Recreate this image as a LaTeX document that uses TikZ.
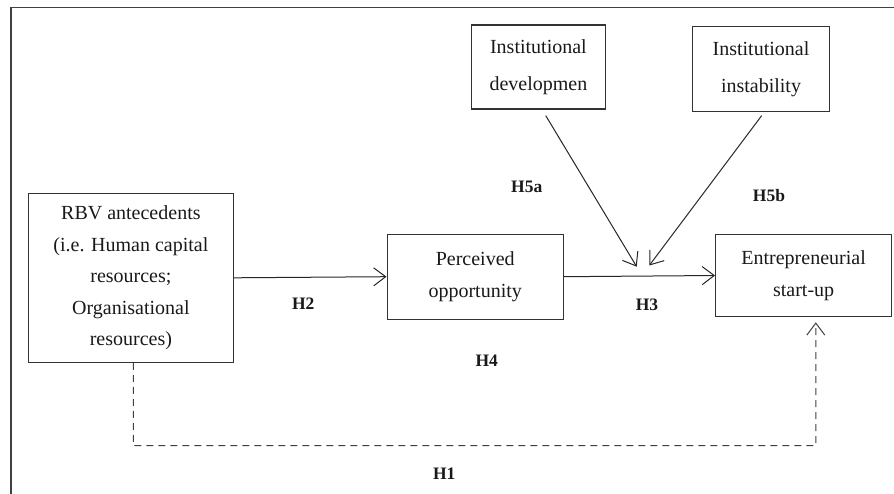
\documentclass[tikz,border=0pt]{standalone}
\usepackage{fontspec}
\setmainfont{Liberation Serif}
\usetikzlibrary{arrows.meta}
\begin{document}
\begin{tikzpicture}[x=1pt,y=-1pt,
  box/.style={draw=black!80, line width=1.1pt, align=center, inner sep=0pt, text=black!90, font=\fontsize{20}{31.5}\selectfont},
  tallbox/.style={box, font=\fontsize{20}{36.6}\selectfont},
  hlab/.style={font=\fontsize{17.5}{20}\selectfont\bfseries, text=black!90, inner sep=0pt},
  arr/.style={draw=black!85, line width=1pt, -{Straight Barb[length=12pt,width=18pt,line width=1pt]}},
  dashline/.style={draw=black!75, line width=1pt, dash pattern=on 7pt off 5pt, -{Straight Barb[length=12pt,width=18pt,line width=1pt]}},
  frameline/.style={draw=black!75, line width=1.3pt}
]
\useasboundingbox (0,0) rectangle (894,493);
% frame
\coordinate (fbl) at (11,496);
\coordinate (ftl) at (11,7.3);
\coordinate (ftr) at (897,7.3);
\draw[frameline] (fbl) -- (ftl) -- (ftr);
% boxes
\node[box, minimum width=205pt, minimum height=169pt] (rbv) at (130.9,277.8) {RBV antecedents\\(i.e. Human capital\\resources;\\Organisational\\resources)};
\node[box, minimum width=176.3pt, minimum height=85.3pt] (per) at (475.2,276.7) {Perceived\\opportunity};
\node[box, minimum width=176pt, minimum height=82.4pt] (ent) at (803.6,275.5) {Entrepreneurial\\start-up};
\node[tallbox, minimum width=133.3pt, minimum height=84pt] (dev) at (538.4,67) {Institutional\\developmen};
\node[tallbox, minimum width=136.6pt, minimum height=85pt] (ins) at (761,69.2) {Institutional\\instability};
% connectors
\draw[arr] (rbv.east) -- (per.west);
\draw[arr] (per.east) -- (ent.west);
\coordinate (m1) at (636.7,266.7);
\coordinate (m2) at (649.3,265.5);
\draw[arr] ([xshift=7.3pt,yshift=-6pt]dev.south) -- (m1);
\draw[arr] ([xshift=0.7pt,yshift=-3.3pt]ins.south) -- (m2);
\coordinate (dl) at (133.3,445.7);
\coordinate (dr) at (815.8,445.7);
\draw[dashline] ([xshift=2.4pt]rbv.south) -- (dl) -- (dr) -- ([xshift=12.2pt,yshift=-5pt]ent.south);
% labels
\node[hlab] (h5a) at (526.7,187) {H5a};
\node[hlab] (h5b) at (769,196) {H5b};
\node[hlab] (h2) at (303.3,304) {H2};
\node[hlab] (h3) at (647,305) {H3};
\node[hlab] (h4) at (486.7,360.7) {H4};
\node[hlab] (h1) at (444.3,474) {H1};
\end{tikzpicture}
\end{document}
